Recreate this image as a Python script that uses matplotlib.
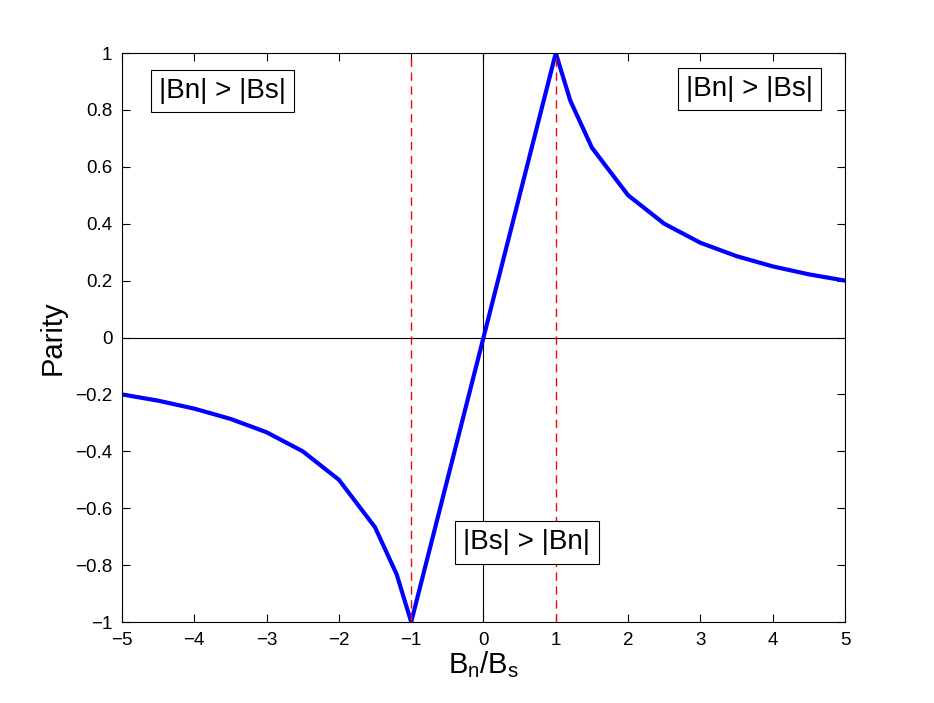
import matplotlib
matplotlib.use("Agg")
import matplotlib.pyplot as plt

plt.rcParams['font.family'] = ['Liberation Sans', 'DejaVu Sans']
plt.rcParams['mathtext.fontset'] = 'custom'
plt.rcParams['mathtext.rm'] = 'Liberation Sans'
plt.rcParams['mathtext.it'] = 'Liberation Sans'
plt.rcParams['mathtext.default'] = 'regular'

ratio = [-5, -4.5, -4, -3.5, -3, -2.5, -2, -1.5, -1.2, -1, 0, 1, 1.2, 1.5, 2, 2.5, 3, 3.5, 4, 4.5, 5]
parity = [-0.2, -0.222, -0.25, -0.286, -0.333, -0.4, -0.5, -0.667, -0.833, -1.0, 0.0,
          1.0, 0.833, 0.667, 0.5, 0.4, 0.333, 0.286, 0.25, 0.222, 0.2]
xticks = [-5, -4, -3, -2, -1, 0, 1, 2, 3, 4, 5]
yticks = [-1, -0.8, -0.6, -0.4, -0.2, 0, 0.2, 0.4, 0.6, 0.8, 1]
boundaries = [-1, 1]
labels = [(-3.61, 0.866, '|Bn| > |Bs|'), (3.68, 0.873, '|Bn| > |Bs|'), (0.6, -0.72, '|Bs| > |Bn|')]

fig = plt.figure(figsize=(9.34, 7.03), dpi=100)
ax = fig.add_axes([0.1306, 0.1152, 0.7741, 0.8094])

ax.axhline(0, color='black', lw=0.8, zorder=1)
ax.axvline(0, color='black', lw=0.8, zorder=1)
for b in boundaries:
    ax.axvline(b, color='red', lw=1.0, ls=(0, (6, 4)), zorder=3)
ax.plot(ratio, parity, color='blue', lw=3, zorder=2)

for x, y, t in labels:
    ax.text(x, y, t, fontsize=20, ha='center', va='center', zorder=4,
            bbox=dict(boxstyle='square,pad=0.3', fc='white', ec='black', lw=0.8))

ax.set_xlim(-5, 5)
ax.set_ylim(-1, 1)
ax.set_xticks(xticks)
ax.set_yticks(yticks)
ax.set_xticklabels([str(v).replace('-', '\u2212') for v in xticks])
ax.set_yticklabels([('%g' % v).replace('-', '\u2212') for v in yticks])
ax.tick_params(direction='in', length=6, width=0.8, labelsize=13.5, top=True, right=True, pad=7)
for s in ax.spines.values():
    s.set_linewidth(0.8)

ax.set_xlabel('B$_n$/B$_s$', fontsize=21, labelpad=0)
ax.set_ylabel('Parity', fontsize=21, labelpad=6)

fig.savefig('out.png', dpi=100)
